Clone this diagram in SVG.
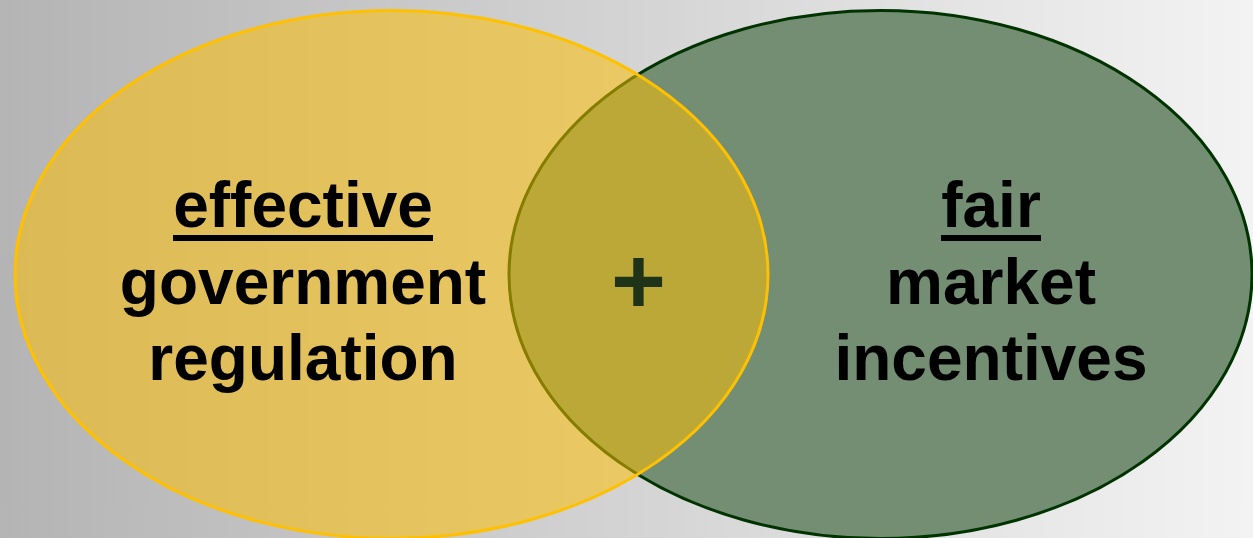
<svg xmlns="http://www.w3.org/2000/svg" width="1253" height="538" viewBox="0 0 1253 538">
  <defs>
    <linearGradient id="bg" x1="0" y1="0" x2="1" y2="0">
      <stop offset="0" stop-color="#b4b4b4"/>
      <stop offset="1" stop-color="#f3f3f3"/>
    </linearGradient>
  </defs>
  <style>
    .lbl { font-family: "Liberation Sans", Arial, sans-serif; font-weight: bold; font-size: 64px; fill: #000; text-anchor: middle; }
    .ul { fill: #000; }
  </style>
  <rect x="0" y="0" width="1253" height="538" fill="url(#bg)"/>
  <g id="market">
    <ellipse cx="880.5" cy="274.5" rx="371.5" ry="264" fill="#738e72" stroke="#003300" stroke-width="3"/>
  </g>
  <g id="regulation">
    <ellipse cx="391.5" cy="274.5" rx="376.5" ry="264" fill="#ffc000" fill-opacity="0.52" stroke="#ffc000" stroke-width="3"/>
  </g>
  <g id="regulation-text">
    <text class="lbl" x="303" y="227">effective</text>
    <rect class="ul" x="173" y="235" width="260" height="6"/>
    <text class="lbl" x="303" y="304">government</text>
    <text class="lbl" x="303" y="380">regulation</text>
  </g>
  <g id="market-text">
    <text class="lbl" x="991" y="227">fair</text>
    <rect class="ul" x="941" y="235" width="100" height="6"/>
    <text class="lbl" x="991" y="304">market</text>
    <text class="lbl" x="991" y="380">incentives</text>
  </g>
  <g id="plus">
    <text x="638.5" y="313" font-family="Liberation Sans, Arial, sans-serif" font-weight="bold" font-size="94" fill="#1f3319" text-anchor="middle">+</text>
  </g>
  <g id="connectors"/>
</svg>
